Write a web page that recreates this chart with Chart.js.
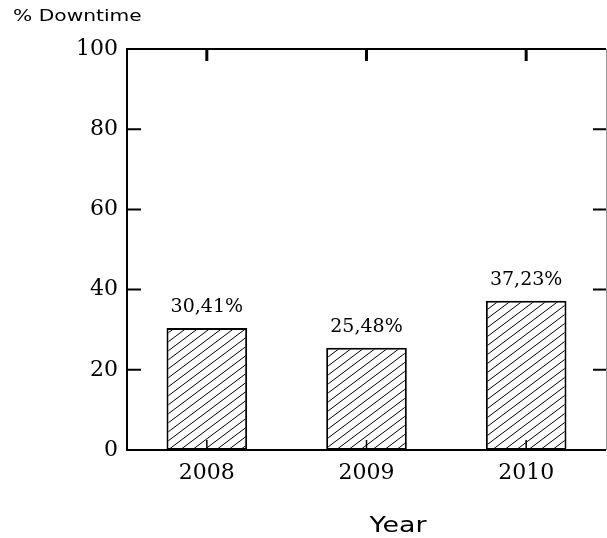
<!DOCTYPE html>
<html>
<head>
<meta charset="utf-8">
<script src="https://cdn.jsdelivr.net/npm/chart.js@4/dist/chart.umd.min.js"></script>
<style>
  html, body { margin: 0; padding: 0; background: #fff; }
  #wrap { width: 607px; height: 538px; }
</style>
</head>
<body>
<div id="wrap"><canvas id="myChart" width="607" height="538"></canvas></div>
<script>
const years = ['2008', '2009', '2010'];
const downtime = [30.41, 25.48, 37.23];
const yMin = 0, yMax = 100, yStep = 20;
const yTitle = '% Downtime';
const xTitle = 'Year';

// diagonal hatch fill
function hatch () {
  const c = document.createElement('canvas');
  c.width = 12; c.height = 9;
  const g = c.getContext('2d');
  g.fillStyle = '#fff';
  g.fillRect(0, 0, 12, 9);
  g.strokeStyle = '#000';
  g.lineWidth = 1;
  [[-12, 0], [0, 0], [12, 0]].forEach(function (o) {
    g.beginPath();
    g.moveTo(o[0] - 2, 10.5);
    g.lineTo(o[0] + 14, -1.5);
    g.stroke();
  });
  return g.createPattern(c, 'repeat');
}

const frame = {
  id: 'frame',
  afterDraw (chart) {
    const ctx = chart.ctx;
    const a = chart.chartArea;
    const x = chart.scales.x, y = chart.scales.y;
    ctx.save();
    ctx.strokeStyle = '#000';
    ctx.lineCap = 'butt';

    ctx.lineWidth = 2;
    ctx.beginPath();
    ctx.moveTo(a.left, a.bottom); ctx.lineTo(a.left, a.top - 1);
    ctx.moveTo(a.left - 1, a.top); ctx.lineTo(a.right, a.top);
    ctx.moveTo(a.left - 1, a.bottom); ctx.lineTo(a.right, a.bottom);
    ctx.stroke();

    ctx.strokeStyle = '#999';
    ctx.lineWidth = 1;
    ctx.beginPath();
    ctx.moveTo(a.right + 0.5, a.top); ctx.lineTo(a.right + 0.5, a.bottom);
    ctx.stroke();

    ctx.strokeStyle = '#000';
    ctx.lineWidth = 2;
    y.ticks.forEach(function (t) {
      const py = y.getPixelForValue(t.value);
      ctx.beginPath();
      ctx.moveTo(a.left, py); ctx.lineTo(a.left + 14, py);
      ctx.moveTo(a.right, py); ctx.lineTo(a.right - 13, py);
      ctx.stroke();
    });

    x.ticks.forEach(function (t, i) {
      const px = x.getPixelForTick(i);
      ctx.lineWidth = 3;
      ctx.beginPath();
      ctx.moveTo(px, a.top); ctx.lineTo(px, a.top + 12);
      ctx.stroke();
      ctx.lineWidth = 1.5;
      ctx.beginPath();
      ctx.moveTo(px, a.bottom); ctx.lineTo(px, a.bottom - 10);
      ctx.stroke();
    });

    // value labels above bars
    ctx.fillStyle = '#000';
    ctx.font = '19px "DejaVu Serif"';
    ctx.textAlign = 'center';
    ctx.textBaseline = 'alphabetic';
    chart.getDatasetMeta(0).data.forEach(function (bar, i) {
      const txt = downtime[i].toFixed(2).replace('.', ',') + '%';
      ctx.fillText(txt, bar.x, bar.y - 16);
    });

    // axis titles
    ctx.font = '15px "DejaVu Sans"';
    ctx.textAlign = 'left';
    ctx.save();
    ctx.translate(13, 21);
    ctx.scale(1.35, 1);
    ctx.fillText(yTitle, 0, 0);
    ctx.restore();

    ctx.font = '22px "DejaVu Sans"';
    ctx.textAlign = 'center';
    ctx.save();
    ctx.translate(398, 532);
    ctx.scale(1.22, 1);
    ctx.fillText(xTitle, 0, 0);
    ctx.restore();

    ctx.restore();
  }
};

const ctx = document.getElementById('myChart');
const myChart = new Chart(ctx, {
  type: 'bar',
  data: {
    labels: years,
    datasets: [{
      data: downtime,
      backgroundColor: hatch(),
      borderColor: '#000',
      borderWidth: 2,
      borderSkipped: false,
      categoryPercentage: 1,
      barPercentage: 0.505
    }]
  },
  plugins: [frame],
  options: {
    responsive: false,
    animation: false,
    layout: { padding: { top: 49, right: 1, left: 0, bottom: 0 } },
    plugins: {
      legend: { display: false },
      tooltip: { enabled: false }
    },
    scales: {
      x: {
        grid: { display: false, drawTicks: false },
        border: { display: false },
        ticks: {
          color: '#000',
          padding: 10,
          font: { family: 'DejaVu Serif', size: 22 }
        },
        afterFit (s) { s.height = 88; }
      },
      y: {
        min: yMin,
        max: yMax,
        grid: { display: false, drawTicks: false },
        border: { display: false },
        ticks: {
          stepSize: yStep,
          color: '#000',
          padding: 9,
          font: { family: 'DejaVu Serif', size: 22 }
        },
        afterFit (s) { s.width = 127; }
      }
    }
  }
});
</script>
</body>
</html>
